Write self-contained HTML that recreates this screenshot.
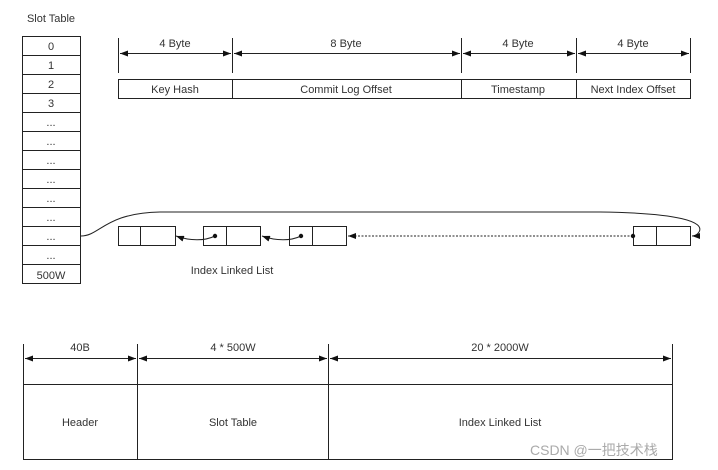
<!DOCTYPE html>
<html><head><meta charset="utf-8"><style>
html,body{margin:0;padding:0;background:#fff;}
svg{display:block;}
text{font-family:"Liberation Sans","Noto Sans CJK SC",sans-serif;fill:#333;}
</style></head><body>
<svg width="718" height="470" viewBox="0 0 718 470" xmlns="http://www.w3.org/2000/svg">
<defs>
<marker id="a" markerWidth="8" markerHeight="6" refX="8" refY="3" orient="auto-start-reverse" markerUnits="userSpaceOnUse"><path d="M0,0 L8,3 L0,6 z" fill="#111"/></marker>
</defs>
<g stroke="#222" stroke-width="1" fill="none">
<rect x="22.5" y="36.5" width="58" height="247"/>
<g>
<line x1="22" y1="55.5" x2="81" y2="55.5"/><line x1="22" y1="74.5" x2="81" y2="74.5"/>
<line x1="22" y1="93.5" x2="81" y2="93.5"/><line x1="22" y1="112.5" x2="81" y2="112.5"/>
<line x1="22" y1="131.5" x2="81" y2="131.5"/><line x1="22" y1="150.5" x2="81" y2="150.5"/>
<line x1="22" y1="169.5" x2="81" y2="169.5"/><line x1="22" y1="188.5" x2="81" y2="188.5"/>
<line x1="22" y1="207.5" x2="81" y2="207.5"/><line x1="22" y1="226.5" x2="81" y2="226.5"/>
<line x1="22" y1="245.5" x2="81" y2="245.5"/><line x1="22" y1="264.5" x2="81" y2="264.5"/>
</g>
<line x1="118.5" y1="38" x2="118.5" y2="73"/><line x1="232.5" y1="38" x2="232.5" y2="73"/>
<line x1="461.5" y1="38" x2="461.5" y2="73"/><line x1="576.5" y1="38" x2="576.5" y2="73"/>
<line x1="690.5" y1="38" x2="690.5" y2="73"/>
<line x1="120" y1="53.5" x2="231" y2="53.5" marker-end="url(#a)" marker-start="url(#a)"/>
<line x1="234" y1="53.5" x2="460" y2="53.5" marker-end="url(#a)" marker-start="url(#a)"/>
<line x1="463" y1="53.5" x2="575" y2="53.5" marker-end="url(#a)" marker-start="url(#a)"/>
<line x1="578" y1="53.5" x2="689" y2="53.5" marker-end="url(#a)" marker-start="url(#a)"/>
<rect x="118.5" y="79.5" width="572" height="19"/>
<line x1="232.5" y1="79" x2="232.5" y2="99"/><line x1="461.5" y1="79" x2="461.5" y2="99"/><line x1="576.5" y1="79" x2="576.5" y2="99"/>
<rect x="118.5" y="226.5" width="57" height="19"/><line x1="140.5" y1="226" x2="140.5" y2="246"/>
<rect x="203.5" y="226.5" width="57" height="19"/><line x1="226.5" y1="226" x2="226.5" y2="246"/>
<rect x="289.5" y="226.5" width="57" height="19"/><line x1="312.5" y1="226" x2="312.5" y2="246"/>
<rect x="633.5" y="226.5" width="57" height="19"/><line x1="656.5" y1="226" x2="656.5" y2="246"/>
<path d="M215,236 C205,241 190,241 176,236" marker-end="url(#a)"/>
<path d="M301,236 C291,241 276,241 262,236" marker-end="url(#a)"/>
<line x1="633" y1="236" x2="348" y2="236" stroke-dasharray="2,1.5" marker-end="url(#a)"/>
<path d="M81,236 C100,236 105,213 160,212 L600,212 C680,213 705,222 699,232 C697,235 695,236 692,236" marker-end="url(#a)"/>
<line x1="23.5" y1="344" x2="23.5" y2="460"/><line x1="137.5" y1="344" x2="137.5" y2="460"/>
<line x1="328.5" y1="344" x2="328.5" y2="460"/><line x1="672.5" y1="344" x2="672.5" y2="460"/>
<line x1="25" y1="358.5" x2="136" y2="358.5" marker-end="url(#a)" marker-start="url(#a)"/>
<line x1="139" y1="358.5" x2="327" y2="358.5" marker-end="url(#a)" marker-start="url(#a)"/>
<line x1="330" y1="358.5" x2="671" y2="358.5" marker-end="url(#a)" marker-start="url(#a)"/>
<line x1="23" y1="384.5" x2="673" y2="384.5"/><line x1="23" y1="459.5" x2="673" y2="459.5"/>
</g>
<g fill="#111"><circle cx="215" cy="236" r="2.2"/><circle cx="301" cy="236" r="2.2"/><circle cx="633" cy="236" r="2.2"/></g>
<g font-size="11" text-anchor="middle">
<text x="51" y="22">Slot Table</text>
<text x="51" y="50">0</text><text x="51" y="69">1</text><text x="51" y="88">2</text><text x="51" y="107">3</text>
<text x="51" y="126">...</text><text x="51" y="145">...</text><text x="51" y="164">...</text><text x="51" y="183">...</text>
<text x="51" y="202">...</text><text x="51" y="221">...</text><text x="51" y="240">...</text><text x="51" y="259">...</text>
<text x="51" y="279">500W</text>
<text x="175" y="47">4 Byte</text><text x="346" y="47">8 Byte</text><text x="518" y="47">4 Byte</text><text x="633" y="47">4 Byte</text>
<text x="175" y="93">Key Hash</text><text x="346" y="93">Commit Log Offset</text><text x="518" y="93">Timestamp</text><text x="633" y="93">Next Index Offset</text>
<text x="232" y="274">Index Linked List</text>
<text x="80" y="351">40B</text><text x="233" y="351">4 * 500W</text><text x="500" y="351">20 * 2000W</text>
<text x="80" y="426">Header</text><text x="233" y="426">Slot Table</text><text x="500" y="426">Index Linked List</text>
</g>
<text x="530" y="455" font-size="14" style="fill:#aaa">CSDN @一把技术栈</text>
</svg>
</body></html>
